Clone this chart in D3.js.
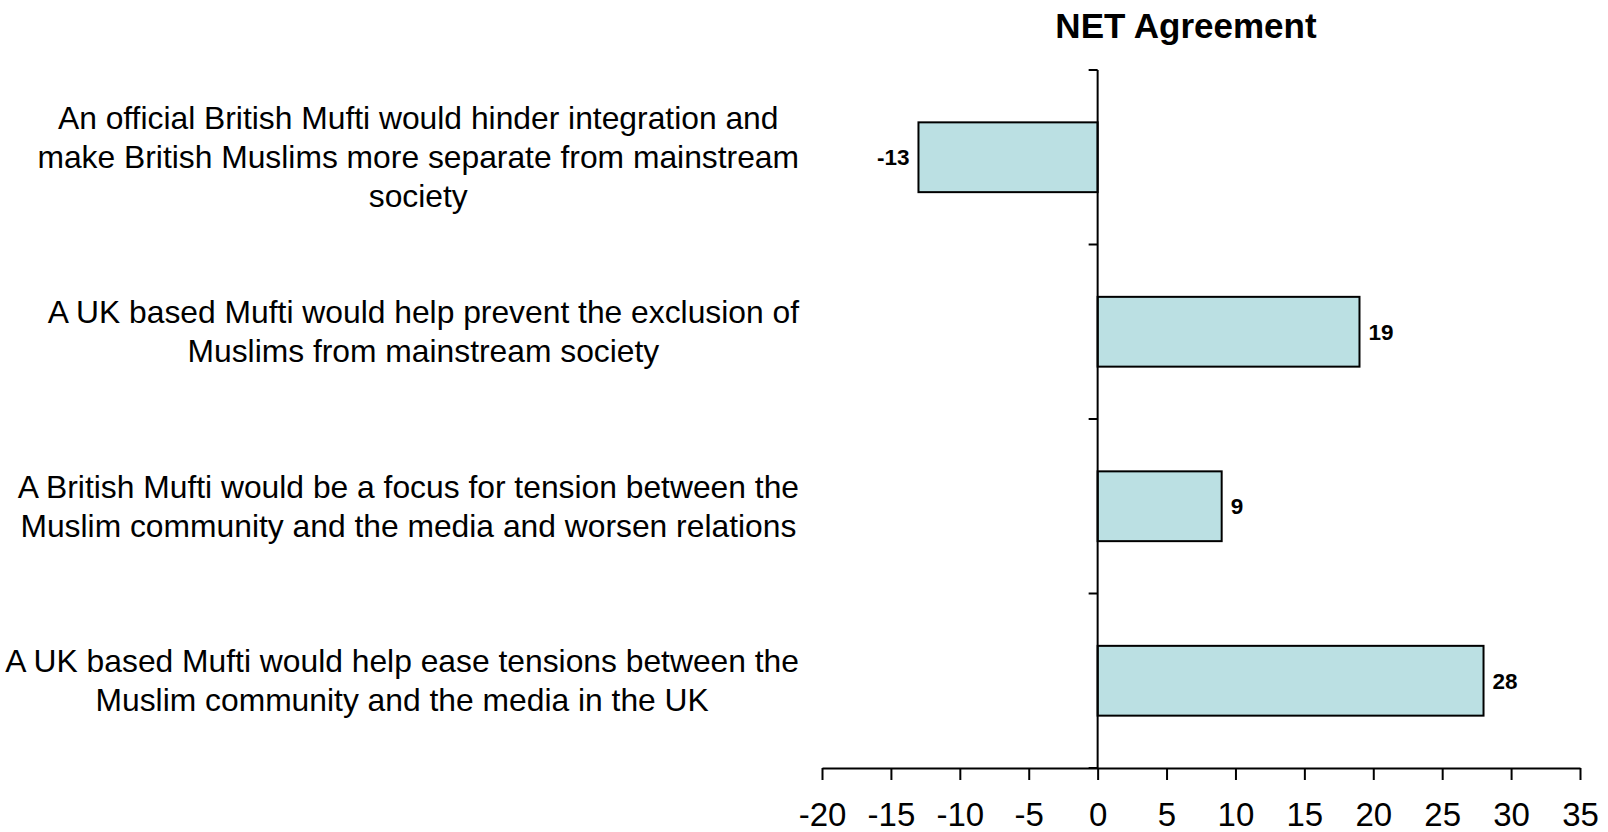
<!DOCTYPE html>
<html><head><meta charset="utf-8">
<script src="https://cdn.jsdelivr.net/npm/d3@7"></script>
<style>
html,body{margin:0;padding:0;background:#fff;}
svg{display:block;}
text{font-family:Arial,"Liberation Sans",sans-serif;fill:#000;}
</style></head>
<body>
<svg id="chart" width="1608" height="832"></svg>
<script>
const title = "NET Agreement";
const categories = [
  ["An official British Mufti would hinder integration and", "make British Muslims more separate from mainstream", "society"],
  ["A UK based Mufti would help prevent the exclusion of", "Muslims from mainstream society"],
  ["A British Mufti would be a focus for tension between the", "Muslim community and the media and worsen relations"],
  ["A UK based Mufti would help ease tensions between the", "Muslim community and the media in the UK"]
];
const values = [-13, 19, 9, 28];
const xTicks = [-20, -15, -10, -5, 0, 5, 10, 15, 20, 25, 30, 35];
const xDomain = [-20, 35];

(function () {
const svg = d3.select("#chart");
const pLeft = 822, pRight = 1580, pTop = 70, pBottom = 768;
const ids = categories.map((c, i) => i);

const x = d3.scaleLinear().domain(xDomain).range([pLeft, pRight]);
const y = d3.scaleBand().domain(ids).range([pTop, pBottom]).paddingInner(0.6).paddingOuter(0.3);

// title
svg.append("text").attr("x", 1186).attr("y", 38).attr("text-anchor", "middle")
  .style("font-size", "35px").style("font-weight", "bold").text(title);

// bars
svg.append("g").selectAll("rect").data(values).join("rect")
  .attr("x", d => x(Math.min(0, d)))
  .attr("y", (d, i) => y(i))
  .attr("width", d => Math.abs(x(d) - x(0)))
  .attr("height", y.bandwidth())
  .attr("fill", "#BBE0E3")
  .attr("stroke", "#000").attr("stroke-width", 2);

// value labels
svg.append("g").selectAll("text").data(values).join("text")
  .attr("x", d => d < 0 ? x(d) - 9 : x(d) + 9)
  .attr("y", (d, i) => y(i) + y.bandwidth() / 2)
  .attr("dy", "0.35em")
  .attr("text-anchor", d => d < 0 ? "end" : "start")
  .style("font-size", "22.5px").style("font-weight", "bold")
  .text(d => d);

// x axis
const xAxis = svg.append("g").attr("transform", `translate(0,${pBottom})`)
  .call(d3.axisBottom(x).tickValues(xTicks).tickSize(12).tickSizeOuter(0).tickFormat(d => String(d)));
xAxis.select(".domain").attr("stroke", "#000").attr("stroke-width", 2);
xAxis.selectAll(".tick line").attr("stroke", "#000").attr("stroke-width", 2);
xAxis.selectAll(".tick text").style("font-size", "33px").style("font-family", 'Arial,"Liberation Sans",sans-serif')
  .attr("dy", null).attr("y", 58);

// y axis at x=0 with ticks at band boundaries
const boundaries = ids.map(i => y(i) - y.step() * y.paddingOuter()).concat([pBottom]);
const yAxis = svg.append("g");
yAxis.append("line").attr("x1", x(0)).attr("x2", x(0)).attr("y1", pTop).attr("y2", pBottom)
  .attr("stroke", "#000").attr("stroke-width", 2);
yAxis.selectAll("line.tk").data(boundaries).join("line").attr("class", "tk")
  .attr("x1", x(0) - 9).attr("x2", x(0)).attr("y1", d => d).attr("y2", d => d)
  .attr("stroke", "#000").attr("stroke-width", 2);

// category labels
const labelRight = 799, lineH = 39;
categories.forEach((lines, i) => {
  const g = svg.append("g");
  const cy = y(i) + y.bandwidth() / 2;
  const n = lines.length;
  const texts = lines.map((ln, j) => g.append("text")
    .attr("y", cy + (j - (n - 1) / 2) * lineH)
    .attr("dy", "0.35em")
    .attr("text-anchor", "middle")
    .style("font-size", "31.8px")
    .text(ln));
  const maxW = d3.max(texts, t => t.node().getComputedTextLength());
  texts.forEach(t => t.attr("x", labelRight - maxW / 2));
});
})();
</script>
</body></html>
